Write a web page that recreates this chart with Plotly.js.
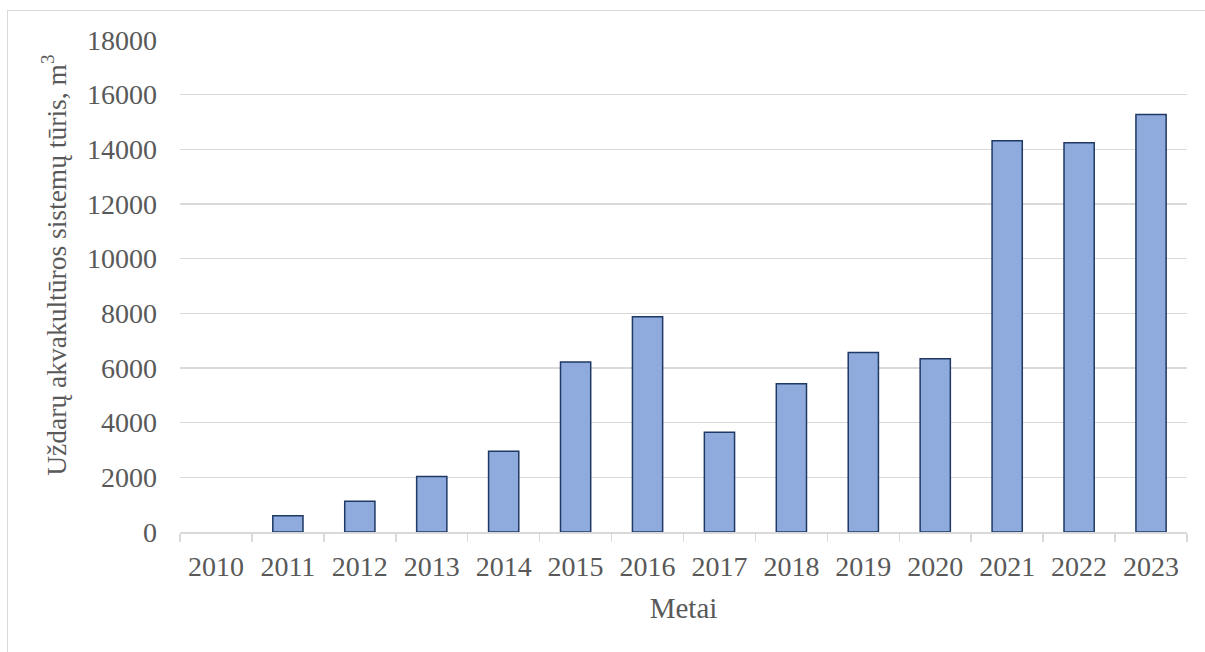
<!DOCTYPE html>
<html>
<head>
<meta charset="utf-8">
<script src="https://cdn.plot.ly/plotly-3.0.1.min.js"></script>
<style>
  html, body { margin: 0; padding: 0; background: #fff; }
  #wrap { position: relative; width: 1205px; height: 652px; overflow: hidden; }
  #chart { width: 1205px; height: 652px; }
  #frame { position: absolute; left: 7px; top: 10px; width: 1300px; height: 800px;
           border-left: 1.5px solid #D9D9D9; border-top: 1.5px solid #D9D9D9; pointer-events: none; }
</style>
</head>
<body>
<div id="wrap">
  <div id="chart"></div>
  <div id="frame"></div>
</div>
<script>
const years = ['2010','2011','2012','2013','2014','2015','2016','2017','2018','2019','2020','2021','2022','2023'];
const volumes = [0, 590, 1125, 2027, 2950, 6216, 7871, 3645, 5424, 6567, 6337, 14310, 14237, 15274];
const yTitle = 'Uždarų akvakultūros sistemų tūris, m<sup>3</sup>';
const xTitle = 'Metai';

const fontFamily = '"Liberation Serif", "Times New Roman", serif';
const textColor = '#595959';

const W = 1205, H = 652;
const M = { l: 180, r: 18, t: 40, b: 119.5 };
const plotW = W - M.l - M.r, plotH = H - M.t - M.b;

const trace = {
  type: 'bar',
  x: years,
  y: volumes,
  marker: {
    color: '#8FAADC',
    line: { color: '#1F3864', width: volumes.map(v => (v > 0 ? 1.5 : 0)) }
  },
  hoverinfo: 'x+y'
};

const layout = {
  width: W,
  height: H,
  margin: M,
  paper_bgcolor: '#ffffff',
  plot_bgcolor: '#ffffff',
  showlegend: false,
  bargap: 0.58,
  font: { family: fontFamily, color: textColor, size: 28 },
  xaxis: {
    type: 'category',
    showline: true,
    linecolor: '#D9D9D9',
    linewidth: 1.5,
    ticks: 'outside',
    tickson: 'boundaries',
    ticklen: 8,
    tickwidth: 1.5,
    tickcolor: '#D9D9D9',
    showgrid: false,
    tickfont: { family: fontFamily, size: 28, color: textColor },
    ticklabelstandoff: 9,
    title: { text: xTitle, font: { family: fontFamily, size: 29, color: textColor }, standoff: 16 }
  },
  yaxis: {
    range: [0, 18000],
    dtick: 2000,
    tick0: 0,
    tickformat: 'd',
    showgrid: true,
    gridcolor: '#D9D9D9',
    gridwidth: 1.5,
    zeroline: false,
    showline: false,
    ticks: '',
    ticklabelstandoff: 22,
    tickfont: { family: fontFamily, size: 28, color: textColor }
  },
  annotations: [{
    text: yTitle,
    xref: 'paper', yref: 'paper',
    x: (55 - M.l) / plotW,
    y: (H - M.b - 266) / plotH,
    xanchor: 'center', yanchor: 'middle',
    textangle: -90,
    showarrow: false,
    font: { family: fontFamily, size: 27.5, color: textColor }
  }]
};

Plotly.newPlot('chart', [trace], layout, { displayModeBar: false, staticPlot: true });
</script>
</body>
</html>
